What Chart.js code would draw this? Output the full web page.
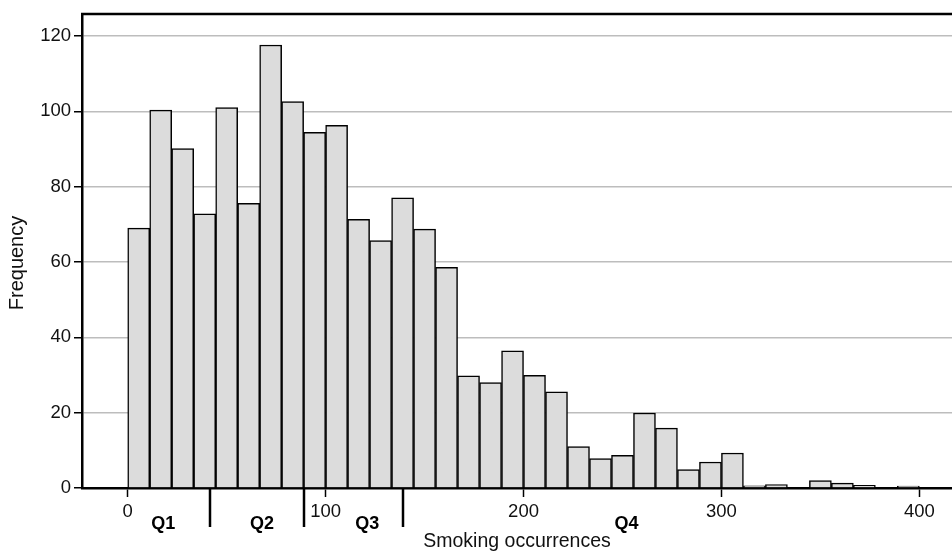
<!DOCTYPE html>
<html>
<head>
<meta charset="utf-8">
<script src="https://cdn.jsdelivr.net/npm/chart.js@4.4.1/dist/chart.umd.min.js"></script>
<style>
  html, body { margin: 0; padding: 0; background: #fff; }
  #c { display: block; }
</style>
</head>
<body>
<canvas id="c" width="952" height="553"></canvas>
<script>
// ---- Data ----
const binWidth = 100 / 9;                 // width of each histogram bin (smoking occurrences)
const frequency = [69.0, 100.3, 90.1, 72.8, 101.0, 75.6, 117.6, 102.6, 94.4, 96.3,
                   71.3, 65.7, 77.0, 68.7, 58.6, 29.8, 28.0, 36.4, 29.9, 25.5,
                   11.0, 7.8, 8.7, 19.9, 15.9, 4.9, 6.9, 9.3, 0.6, 0.9,
                   0, 2.0, 1.3, 0.7, 0, 0.5];
const xTickValues = [0, 100, 200, 300, 400];
const yTickValues = [0, 20, 40, 60, 80, 100, 120];
const quartileCuts = [41.7, 89.3, 139.2];          // quartile boundaries
const quartileLabels = ['Q1', 'Q2', 'Q3', 'Q4'];
const quartileLabelPos = [17.9, 67.8, 121.0, 252.0];
const xTitle = 'Smoking occurrences';
const yTitle = 'Frequency';

const points = frequency.map((v, i) => ({ x: (i + 0.5) * binWidth, y: v }));

const FONT = "Arial, 'Liberation Sans', sans-serif";

const decorations = {
  id: 'decorations',
  afterDraw(chart) {
    const { ctx, chartArea, scales } = chart;
    const x = scales.x;
    ctx.save();
    // top frame line
    ctx.strokeStyle = '#000';
    ctx.lineWidth = 2.5;
    ctx.beginPath();
    ctx.moveTo(chartArea.left - 1, chartArea.top);
    ctx.lineTo(chartArea.right, chartArea.top);
    ctx.stroke();
    // quartile boundary marks below the axis
    quartileCuts.forEach(v => {
      const px = Math.round(x.getPixelForValue(v));
      ctx.beginPath();
      ctx.moveTo(px, chartArea.bottom);
      ctx.lineTo(px, chartArea.bottom + 39);
      ctx.stroke();
    });
    // quartile labels
    ctx.fillStyle = '#000';
    ctx.font = "bold 18px " + FONT;
    ctx.textAlign = 'center';
    ctx.textBaseline = 'middle';
    quartileLabels.forEach((t, i) => {
      ctx.fillText(t, x.getPixelForValue(quartileLabelPos[i]), chartArea.bottom + 36);
    });
    // y axis title
    ctx.font = "20px " + FONT;
    ctx.fillStyle = '#111';
    ctx.translate(17, 263);
    ctx.rotate(-Math.PI / 2);
    ctx.fillText(yTitle, 0, 0);
    ctx.restore();
  }
};

new Chart(document.getElementById('c'), {
  type: 'bar',
  data: {
    datasets: [{
      data: points,
      backgroundColor: '#dcdcdc',
      borderColor: '#000',
      borderWidth: 1.5,
      barPercentage: 1,
      categoryPercentage: 1
    }]
  },
  options: {
    responsive: false,
    devicePixelRatio: 1,
    animation: false,
    layout: { padding: { left: 0, right: 0, top: 11, bottom: 0 } },
    plugins: { legend: { display: false }, tooltip: { enabled: false } },
    scales: {
      x: {
        type: 'linear',
        offset: false,
        min: -23.1,
        max: 416.5,
        afterBuildTicks: s => { s.ticks = xTickValues.map(v => ({ value: v })); },
        afterFit: s => { s.height = 65; },
        grid: { display: true, offset: false, drawOnChartArea: false, drawTicks: true, tickLength: 9, tickColor: '#000', tickWidth: 1.5 },
        border: { display: true, color: '#000', width: 2.5 },
        ticks: { color: '#111', font: { family: FONT, size: 18.5 }, padding: 4, maxRotation: 0, autoSkip: false },
        title: { display: true, text: xTitle, color: '#111', font: { family: FONT, size: 19.5 }, padding: { top: 0, bottom: 0 } }
      },
      y: {
        min: 0,
        max: 125.8,
        afterBuildTicks: s => { s.ticks = yTickValues.map(v => ({ value: v })); },
        afterFit: s => { s.width = 82; },
        grid: { display: true, color: '#bdbdbd', lineWidth: 1.5, drawTicks: true, tickLength: 8, tickColor: '#000', tickWidth: 1.5 },
        border: { display: true, color: '#000', width: 2.5 },
        ticks: { color: '#111', font: { family: FONT, size: 18.5 }, padding: 3 },
        title: { display: false }
      }
    }
  },
  plugins: [decorations]
});
</script>
</body>
</html>
